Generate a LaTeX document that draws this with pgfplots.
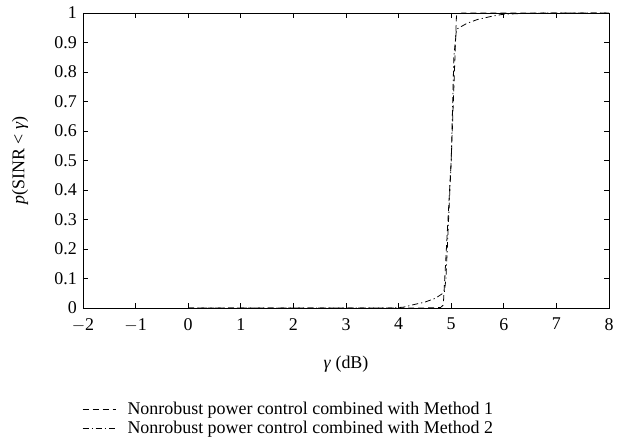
\documentclass[border=0pt]{standalone}
\usepackage{fontspec}
\setmainfont{Liberation Serif}
\usepackage{pgfplots}
\pgfplotsset{compat=1.18}
\usetikzlibrary{calc}

\begin{document}
\fontsize{18}{20}\selectfont
\begin{tikzpicture}
\begin{axis}[
  name=ax,
  scale only axis,
  width=526bp, height=295bp,
  xmin=-2, xmax=8, ymin=0, ymax=1,
  xtick={-2,...,8},
  ytick={0,0.1,...,1},
  yticklabels={0,0.1,0.2,0.3,0.4,0.5,0.6,0.7,0.8,0.9,1},
  xticklabels={$-$2,$-$1,0,1,2,3,4,5,6,7,8},
  tick align=inside,
  major tick length=5bp,
  xtick pos=both, ytick pos=both,
  tick style={black, line width=0.7pt},
  axis line style={line width=0.9pt},
  ticklabel style={font=\fontsize{18}{20}\selectfont},
  xticklabel style={yshift=-4bp},
  /pgf/number format/assume math mode=true,
  xlabel={\textit{γ} (dB)},
  ylabel={\textit{p}(SINR < \textit{γ})},
  label style={font=\fontsize{18}{20}\selectfont},
  xlabel style={yshift=-12bp},
  ylabel style={yshift=14bp},
  legend cell align=left,
  legend style={draw=none, fill=none, at={(rel axis cs:-0.002,-0.31)}, anchor=north west,
    row sep=0pt, inner sep=0pt, font=\fontsize{18}{20}\selectfont},
  legend image code/.code={\draw[#1] (0bp,0bp) -- (33bp,0bp); \path[draw=none] (0bp,0bp) -- (43bp,0bp);},
]
\addplot[black, dash pattern=on 6bp off 4bp, line width=0.8pt] coordinates {
  (0,0)(4.5,0)(4.8,0.002)(4.85,0.01)(5.0,0.5)(5.1,0.99)(5.2,1)(8,1)
};
\addlegendentry{Nonrobust power control combined with Method 1}
\addplot[black, dash pattern=on 6bp off 3bp on 1.2bp off 3bp, line width=0.8pt] coordinates {
  (0,0)(3.9,0)(4.1,0.003)(4.3,0.012)(4.5,0.02)(4.7,0.033)(4.87,0.053)(4.9,0.1)
  (5.0,0.5)(5.05,0.85)(5.1,0.945)(5.3,0.965)(5.5,0.978)(5.8,0.99)(6,0.996)(6.5,0.999)(7,1)(8,1)
};
\addlegendentry{Nonrobust power control combined with Method 2}
\end{axis}
\pgfresetboundingbox
\path ($(ax.south west)+(-83bp,-136bp)$) rectangle ($(ax.north east)+(14bp,13bp)$);
\end{tikzpicture}
\end{document}
